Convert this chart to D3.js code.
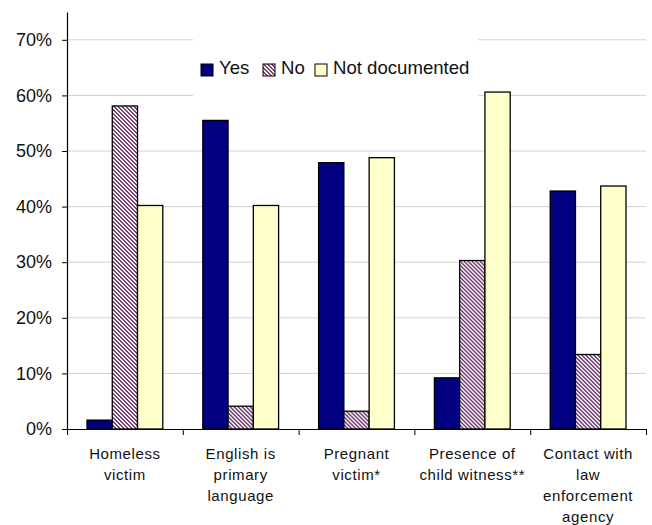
<!DOCTYPE html>
<html>
<head>
<meta charset="utf-8">
<script src="https://cdn.jsdelivr.net/npm/d3@7"></script>
<style>
  html, body { margin: 0; padding: 0; background: #fff; }
  svg { display: block; font-family: "Liberation Sans", Arial, sans-serif; }
</style>
</head>
<body>
<svg id="chart" width="652" height="525"></svg>
<script>
// Case characteristics, percent of cases
const categories = [
  "Homeless\nvictim",
  "English is\nprimary\nlanguage",
  "Pregnant\nvictim*",
  "Presence of\nchild witness**",
  "Contact with\nlaw\nenforcement\nagency"
];
const seriesNames = ["Yes", "No", "Not documented"];
const yesValues = [1.6, 55.5, 47.9, 9.2, 42.8];
const noValues = [58.1, 4.1, 3.2, 30.3, 13.4];
const notDocumentedValues = [40.2, 40.2, 48.8, 60.6, 43.7];
const yTicks = [0, 10, 20, 30, 40, 50, 60, 70];

const seriesValues = [yesValues, noValues, notDocumentedValues];
const fills = ["#000080", "url(#hatchNo)", "#ffffcc"];

const svg = d3.select("#chart");
const plotLeft = 67, plotRight = 646, plotTop = 12, plotBottom = 429;

// pixel diagonal hatch for the "No" series: two stripe pixels per row, shifted each row
const defs = svg.append("defs");
const pat = defs.append("pattern")
  .attr("id", "hatchNo")
  .attr("patternUnits", "userSpaceOnUse")
  .attr("width", 4).attr("height", 4);
pat.append("rect").attr("width", 4).attr("height", 4).attr("fill", "#ccffff");
pat.selectAll("rect.px")
  .data(d3.range(4).flatMap(r => [[r, r], [(r + 1) % 4, r]]))
  .join("rect")
  .attr("class", "px")
  .attr("x", d => d[0]).attr("y", d => d[1])
  .attr("width", 1).attr("height", 1)
  .attr("fill", "#993366")
  .attr("shape-rendering", "crispEdges");

const y = d3.scaleLinear().domain([0, 75]).range([plotBottom, plotTop]);
const x = d3.scaleBand().domain(categories).range([plotLeft, plotRight]).padding(0);
const xs = d3.scaleBand().domain(seriesNames).range([20, x.bandwidth() - 20]).padding(0);

// gridlines
svg.append("g").selectAll("line")
  .data(yTicks.filter(d => d > 0))
  .join("line")
  .attr("x1", plotLeft).attr("x2", plotRight)
  .attr("y1", d => y(d)).attr("y2", d => y(d))
  .attr("stroke", "#d0d0d0").attr("stroke-width", 1);

// legend background
const legend = svg.append("g");
legend.append("rect")
  .attr("x", 193).attr("y", 33).attr("width", 285).attr("height", 67)
  .attr("fill", "#fff");

// bars
const groups = svg.append("g").selectAll("g")
  .data(categories)
  .join("g")
  .attr("transform", d => `translate(${x(d)},0)`);

groups.selectAll("rect")
  .data((d, i) => seriesNames.map((s, j) => ({ s, j, v: seriesValues[j][i] })))
  .join("rect")
  .attr("x", d => xs(d.s))
  .attr("width", xs.bandwidth())
  .attr("y", d => y(d.v))
  .attr("height", d => y(0) - y(d.v))
  .attr("fill", d => fills[d.j])
  .attr("stroke", "#000").attr("stroke-width", 1.3);

// y axis
const yAxis = svg.append("g")
  .attr("transform", `translate(${plotLeft},0)`)
  .call(d3.axisLeft(y).tickValues(yTicks).tickFormat(d => d + "%").tickSize(5).tickSizeOuter(0));
yAxis.select(".domain").attr("stroke", "#000").attr("stroke-width", 1.2);
yAxis.selectAll(".tick line").attr("stroke", "#000");
yAxis.selectAll(".tick text")
  .attr("x", -15)
  .attr("font-size", 18)
  .attr("font-family", "Liberation Sans, Arial, sans-serif")
  .attr("fill", "#111");

// x axis with ticks at category boundaries
const xb = d3.scaleLinear().domain([0, categories.length]).range([plotLeft, plotRight]);
const xAxis = svg.append("g")
  .attr("transform", `translate(0,${plotBottom})`)
  .call(d3.axisBottom(xb).tickValues(d3.range(0, categories.length + 1)).tickFormat("").tickSize(6).tickSizeOuter(0));
xAxis.select(".domain").attr("stroke", "#000").attr("stroke-width", 1.2);
xAxis.selectAll(".tick line").attr("stroke", "#000");

// category labels
svg.append("g").selectAll("text")
  .data(categories)
  .join("text")
  .attr("text-anchor", "middle")
  .attr("font-size", 15)
  .attr("letter-spacing", 0.6)
  .attr("fill", "#111")
  .attr("transform", d => `translate(${x(d) + x.bandwidth() / 2},459)`)
  .selectAll("tspan")
  .data(d => d.split("\n"))
  .join("tspan")
  .attr("x", 0)
  .attr("y", (d, i) => i * 21)
  .text(d => d);

// legend
const legendX = [201, 263, 315];
const items = legend.selectAll("g.item")
  .data(seriesNames)
  .join("g")
  .attr("class", "item")
  .attr("transform", (d, i) => `translate(${legendX[i]},64)`);
items.append("rect")
  .attr("width", 12).attr("height", 12)
  .attr("fill", (d, i) => fills[i])
  .attr("stroke", "#000").attr("stroke-width", 1);
items.append("text")
  .attr("x", 18).attr("y", 10)
  .attr("font-size", 18.6)
  .attr("fill", "#111")
  .text(d => d);
</script>
</body>
</html>
